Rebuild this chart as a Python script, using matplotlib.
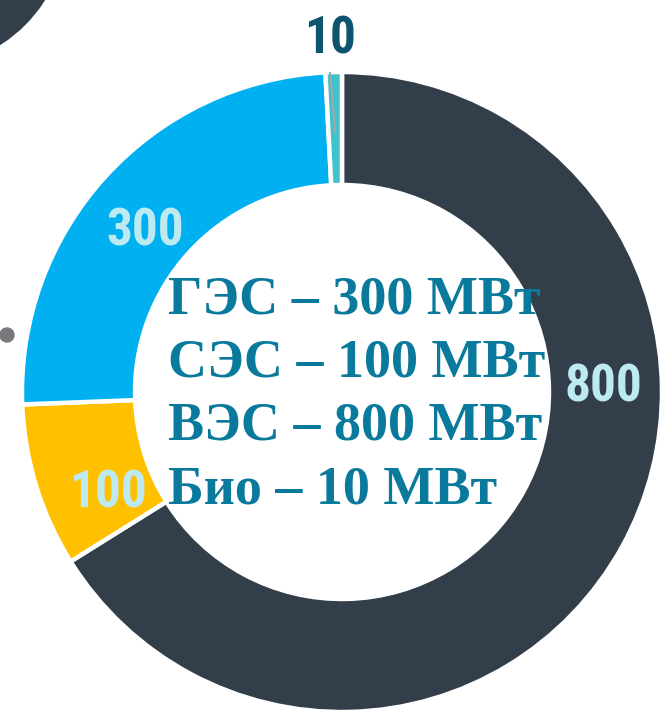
import numpy as np
import matplotlib
matplotlib.use('Agg')
import matplotlib.pyplot as plt
from matplotlib.patches import Circle

# Data
values = [800, 100, 300, 10]
value_labels = ['800', '100', '300', '10']
colors = ['#333E4B', '#FFC000', '#00B0F0', '#3DC3CB']
legend_lines = ['ГЭС – 300 МВт', 'СЭС – 100 МВт', 'ВЭС – 800 МВт', 'Био – 10 МВт']

W, H = 662, 713
fig = plt.figure(figsize=(W / 100, H / 100), dpi=100)
ax = fig.add_axes([0, 0, 1, 1])

cx, cy = 342, 321
r_out, ring = 320, 113

wedges, _ = ax.pie(values, colors=colors, startangle=90, counterclock=False,
                   radius=r_out, center=(cx, cy), frame=True,
                   wedgeprops=dict(width=ring, edgecolor='white', linewidth=3.2))
ax.set_xlim(0, W)
ax.set_ylim(0, H)
ax.axis('off')

# value labels (positions)
label_pos = [(603, 325), (108, 219), (145, 482), (330, 673)]
label_colors = ['#BDE9F0', '#BDE9F0', '#BDE9F0', '#0E546E']
for txt, (x, y), c in zip(value_labels, label_pos, label_colors):
    ax.text(x, y, txt, ha='center', va='center', fontsize=37, fontweight='bold',
            color=c, family=['Roboto Condensed', 'DejaVu Sans'])

# leader line for the small slice
w = wedges[3]
mid = np.deg2rad((w.theta1 + w.theta2) / 2)
ax.plot([label_pos[3][0], cx + 260 * np.cos(mid)],
        [label_pos[3][1] - 33, cy + 260 * np.sin(mid)],
        color='#A6A6A6', lw=1.5, zorder=5)

# centre text
for i, line in enumerate(legend_lines):
    ax.text(168, 400 - i * 63.5, line, ha='left', va='baseline', fontsize=39,
            fontweight='bold', color='#0A7A9C', family='Liberation Serif')

# decorative shapes from the slide
ax.add_patch(Circle((-80, H + 80), 148, color='#333E4B'))
ax.add_patch(Circle((7, H - 335), 7, color='#77787B'))

fig.savefig('out.png', dpi=100)
